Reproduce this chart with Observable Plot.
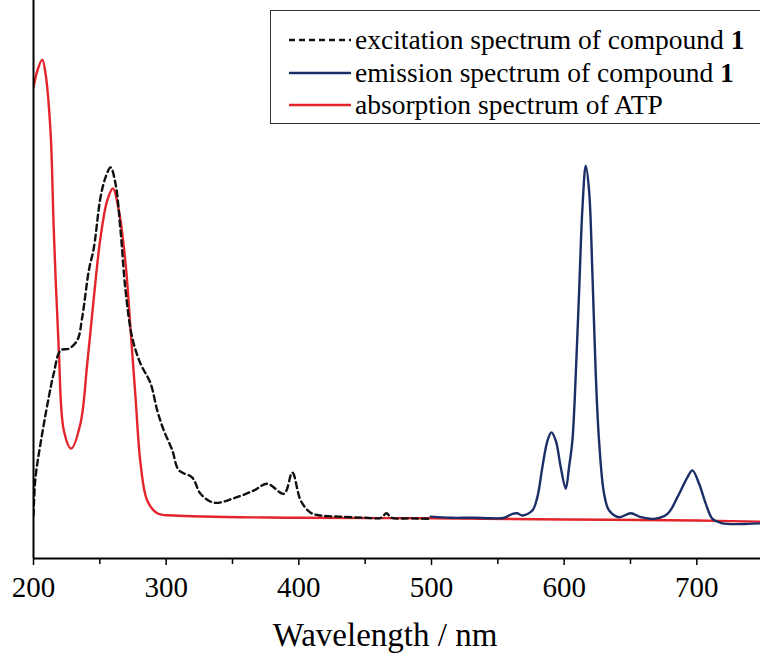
<!DOCTYPE html>
<html>
<head>
<meta charset="utf-8">
<script src="https://cdn.jsdelivr.net/npm/d3@7"></script>
<script src="https://cdn.jsdelivr.net/npm/@observablehq/plot@0.6"></script>
<style>
  html, body { margin: 0; padding: 0; background: #fff; }
  #wrap { position: relative; width: 760px; height: 661px; overflow: hidden; }
  #legend { position: absolute; left: 270px; top: 10px; width: 500px; height: 114px;
    border: 1.5px solid #333; background: #fff; box-sizing: border-box;
    font-family: "Liberation Serif", "DejaVu Serif", serif; font-size: 27.5px; color: #000; }
  .row { position: absolute; left: 18px; height: 30px; display: flex; align-items: center; white-space: nowrap; }
  .row svg { margin-right: 4px; }
  svg text { font-family: "Liberation Serif", "DejaVu Serif", serif; }
</style>
</head>
<body>
<div id="wrap">
  <div id="chart"></div>
  <div id="legend"></div>
</div>
<script>
// Wavelength (nm) and relative intensity (0–100, 100 = top of frame)
const excitationWl = [200, 201.5, 205.3, 211.5, 215.3, 220.4, 226.6, 233, 236.7, 241.7, 245.5, 250.5, 254.3, 258.1, 261.8, 265.6, 269.4, 274.4, 280.7, 288.2, 293.3, 298.3, 304.6, 309.6, 319.7, 325.9, 336, 351, 366.2, 376.2, 388.8, 395.1, 401.4, 408.9, 416.4, 430, 450, 462, 466, 470, 485, 500];
const excitationI  = [7.7, 14.5, 20.6, 28.9, 33.2, 37.3, 37.6, 39.1, 43.2, 51.6, 55.7, 64.7, 68.3, 70.1, 67.2, 58.8, 48.0, 39.6, 34.9, 31.4, 26.5, 22.9, 19.4, 15.8, 14.5, 11.6, 10.0, 10.8, 12.2, 13.4, 11.6, 15.4, 10.4, 8.2, 7.7, 7.5, 7.3, 7.3, 8.1, 7.3, 7.2, 7.1];

const emissionWl = [499.4, 515, 532, 545, 555, 561, 564.8, 568.5, 576, 579.8, 583.6, 587.4, 590.4, 593.7, 597.4, 601.2, 603.7, 606.2, 608.8, 611.3, 613.8, 616.3, 618.8, 621.3, 623.8, 626.3, 630.1, 633.9, 641.4, 650.2, 657.8, 667.8, 677.9, 685.4, 693, 696.7, 701.7, 706.8, 711.8, 718, 723.1, 738.2, 748];
const emissionI  = [7.5, 7.3, 7.3, 7.2, 7.3, 8.0, 8.1, 7.7, 8.6, 11.0, 16.4, 21.1, 22.6, 21.1, 16.4, 12.5, 16.4, 21.1, 33.2, 48.0, 62.9, 70.4, 65.9, 51.1, 33.2, 21.1, 11.6, 8.6, 7.4, 8.1, 7.4, 7.1, 8.0, 11.0, 14.6, 15.8, 13.4, 9.8, 7.1, 6.4, 6.2, 6.2, 6.3];

const absorptionWl = [200, 203, 206.6, 209, 212.8, 215.3, 219, 222.9, 228.4, 235.4, 240.5, 245.5, 250.5, 255.6, 259.8, 264.3, 269.4, 273.2, 276.9, 280.7, 285.7, 293.3, 305.6, 400, 500, 600, 700, 748];
const absorptionI  = [84.4, 87.5, 89.4, 87.0, 76.7, 58.8, 37.8, 22.9, 19.7, 24.2, 34.9, 46.8, 57.5, 64.2, 66.3, 62.4, 52.9, 40.9, 28.9, 17.0, 10.4, 8.1, 7.7, 7.3, 7.2, 7.0, 6.8, 6.6];

const majorTicks = [200, 300, 400, 500, 600, 700];
const minorTicks = [250, 350, 450, 550, 650, 750];

const seriesNames = ["excitation spectrum of compound", "emission spectrum of compound", "absorption spectrum of ATP"];
const seriesBold = ["1", "1", ""];
const seriesColors = ["#111111", "#1c2e66", "#e3242b"];
const seriesDash = ["6,4", null, null];

const toRows = (wl, I) => wl.map((w, i) => ({w, v: I[i]}));
const exc = toRows(excitationWl, excitationI);
const emi = toRows(emissionWl, emissionI);
const abs = toRows(absorptionWl, absorptionI);

const serif = '"Liberation Serif", "DejaVu Serif", serif';

const chart = Plot.plot({
  width: 760,
  height: 661,
  marginLeft: 33,
  marginRight: 0,
  marginTop: 0,
  marginBottom: 103,
  style: {fontFamily: serif, background: "#fff", overflow: "visible"},
  x: {domain: [200, 748], label: null},
  y: {domain: [0, 100], axis: null},
  marks: [
    Plot.line(abs, {x: "w", y: "v", stroke: seriesColors[2], strokeWidth: 2.4, clip: true, curve: "catmull-rom"}),
    Plot.line(emi, {x: "w", y: "v", stroke: seriesColors[1], strokeWidth: 2.4, clip: true, curve: "catmull-rom"}),
    Plot.line(exc, {x: "w", y: "v", stroke: seriesColors[0], strokeWidth: 2.4, strokeDasharray: seriesDash[0], clip: true, curve: "catmull-rom"}),
    Plot.ruleX([200], {stroke: "#000", strokeWidth: 2}),
    Plot.ruleY([0], {stroke: "#000", strokeWidth: 2}),
    Plot.axisX(minorTicks.filter(t => t <= 748), {tickSize: 6, tickFormat: () => "", strokeWidth: 1.5}),
    Plot.axisX(majorTicks, {tickSize: 7, tickPadding: 11, fontSize: 29, fontFamily: serif, tickFormat: d => String(d), strokeWidth: 1.5, fill: "#000", style: {letterSpacing: "-1px"}}),
    Plot.text(["Wavelength / nm"], {frameAnchor: "bottom", dy: 87, dx: -12, fontSize: 33, fontFamily: serif, fill: "#000"})
  ]
});
document.getElementById("chart").appendChild(chart);

// Legend
const legend = document.getElementById("legend");
const rowTops = [14, 47, 79];
seriesNames.forEach((name, i) => {
  const row = document.createElement("div");
  row.className = "row";
  row.style.top = rowTops[i] + "px";
  const dash = seriesDash[i] ? `stroke-dasharray="${seriesDash[i]}"` : "";
  row.innerHTML = `<svg width="62" height="10"><line x1="0" y1="5" x2="62" y2="5" stroke="${seriesColors[i]}" stroke-width="2.4" ${dash}/></svg>` +
    `<span>${name}${seriesBold[i] ? ' <b>' + seriesBold[i] + '</b>' : ''}</span>`;
  legend.appendChild(row);
});
</script>
</body>
</html>
